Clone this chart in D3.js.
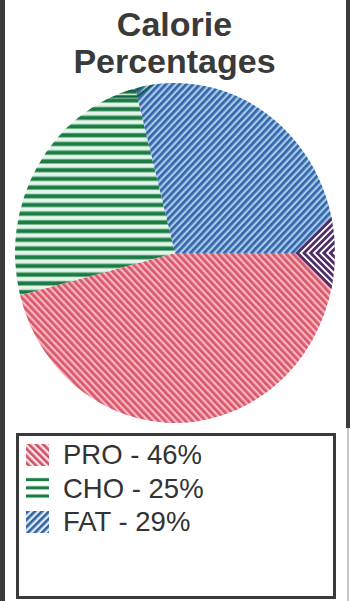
<!DOCTYPE html>
<html>
<head>
<meta charset="utf-8">
<script src="https://cdn.jsdelivr.net/npm/d3@7"></script>
<style>
  html, body { margin: 0; padding: 0; background: #ffffff; }
  svg { display: block; }
</style>
</head>
<body>
<script>
// ---- data ----
const categories = ["PRO", "CHO", "FAT"];
const values = [46, 25, 29];
const titleLines = ["Calorie", "Percentages"];
const legendLabels = categories.map((c, i) => `${c} - ${values[i]}%`);

// ---- layout ----
const W = 352, H = 601;
const cx = 175, cy = 253, rx = 160, ry = 170;

const svg = d3.select("body").append("svg")
  .attr("width", W).attr("height", H);

const defs = svg.append("defs");

function stripePattern(id, angle, period, stripeW, bg, fg) {
  const p = defs.append("pattern")
    .attr("id", id)
    .attr("patternUnits", "userSpaceOnUse")
    .attr("width", period).attr("height", 10)
    .attr("patternTransform", `rotate(${angle})`);
  if (bg) p.append("rect").attr("width", period).attr("height", 10).attr("fill", bg);
  p.append("rect").attr("width", stripeW).attr("height", 10).attr("fill", fg);
}
function hPattern(id, bg) {
  const p = defs.append("pattern")
    .attr("id", id)
    .attr("patternUnits", "userSpaceOnUse")
    .attr("width", 10).attr("height", 8.2);
  if (bg) {
    p.append("rect").attr("width", 10).attr("height", 8.2).attr("fill", bg);
    p.append("rect").attr("y", 1.6).attr("width", 10).attr("height", 4.6).attr("fill", "#6fb98c");
  }
  p.append("rect").attr("y", 2.4).attr("width", 10).attr("height", 3.2).attr("fill", "#1c7a43");
}
stripePattern("pat-PRO", -45, 4.8, 2.6, "#f6b7c0", "#d9566b");
stripePattern("pat-FAT", 45, 4.8, 2.6, "#a6c9ec", "#3465a8");
hPattern("pat-CHO", "#e6f5ec");
// legend swatch patterns (stripes on white)
stripePattern("sw-PRO", -45, 5, 2.6, "#fbe3e6", "#d24f66");
stripePattern("sw-FAT", 45, 5, 2.6, "#dde9f6", "#2f5f9f");
hPattern("sw-CHO", null);

const color = d3.scaleOrdinal().domain(categories)
  .range(categories.map(c => `url(#pat-${c})`));
const swatch = d3.scaleOrdinal().domain(categories)
  .range(categories.map(c => `url(#sw-${c})`));

// ---- frame bars ----
svg.append("rect").attr("x", 0).attr("y", 0).attr("width", 5).attr("height", H).attr("fill", "#3b3b3b");
svg.append("rect").attr("x", 346).attr("y", 0).attr("width", 4).attr("height", 428).attr("fill", "#3b3b3b");
svg.append("rect").attr("x", 347).attr("y", 428).attr("width", 2).attr("height", H - 428).attr("fill", "#c8c8c8");

// ---- title ----
svg.append("g").selectAll("text").data(titleLines).join("text")
  .attr("x", 174.5)
  .attr("y", (d, i) => 36 + i * 37)
  .attr("text-anchor", "middle")
  .attr("font-family", "Liberation Sans, Arial, sans-serif")
  .attr("font-weight", "bold")
  .attr("font-size", 34)
  .attr("fill", "#3a3a3a")
  .text(d => d);

// ---- pie ----
const pie = d3.pie().sort(null)
  .startAngle(Math.PI / 2).endAngle(Math.PI / 2 + 2 * Math.PI);
const arcs = pie(values).map((a, i) => Object.assign(a, { cat: categories[i] }));
const arc = d3.arc().innerRadius(0).outerRadius(rx);

const g = svg.append("g")
  .attr("transform", `translate(${cx},${cy}) scale(1,${ry / rx})`);

g.selectAll("path.slice").data(arcs).join("path")
  .attr("class", "slice")
  .attr("d", arc)
  .attr("fill", d => color(d.cat));

// clip to full pie for seam decorations
defs.append("clipPath").attr("id", "pieClip")
  .append("ellipse").attr("cx", cx).attr("cy", cy).attr("rx", rx).attr("ry", ry);

function boundaryPoint(angle, f) {
  return [cx + rx * f * Math.sin(angle), cy - ry * f * Math.cos(angle)];
}

// seam at start angle (FAT -> PRO): purple chevrons
const seam1 = arcs[0].startAngle;
const apex = boundaryPoint(seam1, 0.765);
const deco = svg.append("g").attr("clip-path", "url(#pieClip)");
const chevronOffsets = d3.range(0, 50, 6.6);
deco.append("path")
  .attr("d", `M${apex[0]},${apex[1]} L${apex[0] + 70},${apex[1] - 70} L${apex[0] + 70},${apex[1] + 70} Z`)
  .attr("fill", "#ffffff");
deco.selectAll("path.chev").data(chevronOffsets).join("path")
  .attr("class", "chev")
  .attr("d", o => `M${apex[0] + o + 70},${apex[1] - 70} L${apex[0] + o},${apex[1]} L${apex[0] + o + 70},${apex[1] + 70}`)
  .attr("fill", "none").attr("stroke", "#4e2c66").attr("stroke-width", 2.8);

// seam CHO -> FAT: dark green chevrons near outer edge
const seam2 = arcs[1].endAngle;
const greenCorners = [0.95, 0.985, 1.02];
deco.selectAll("path.gchev").data(greenCorners).join("path")
  .attr("class", "gchev")
  .attr("d", f => {
    const p = boundaryPoint(seam2, f);
    const len = 30 - (f - 0.95) * 300;
    return `M${p[0] - len},${p[1]} L${p[0]},${p[1]} L${p[0] + 18},${p[1] - 14}`;
  })
  .attr("fill", "none").attr("stroke", "#17604a").attr("stroke-width", 2.4);

// ---- legend ----
const legend = svg.append("g");
legend.append("rect")
  .attr("x", 17.5).attr("y", 434.5).attr("width", 317).attr("height", 163)
  .attr("fill", "#ffffff").attr("stroke", "#3a3a3a").attr("stroke-width", 3);

const rowY = d3.scalePoint().domain(categories).range([464, 531]);

legend.selectAll("rect.sw").data(categories).join("rect")
  .attr("class", "sw")
  .attr("x", 26).attr("y", d => rowY(d) - 20)
  .attr("width", 23).attr("height", 22)
  .attr("fill", d => swatch(d));

legend.selectAll("text.lab").data(legendLabels).join("text")
  .attr("class", "lab")
  .attr("x", 63)
  .attr("y", (d, i) => rowY(categories[i]))
  .attr("font-family", "Liberation Sans, Arial, sans-serif")
  .attr("font-size", 27.5)
  .attr("fill", "#333333")
  .text(d => d);
</script>
</body>
</html>
